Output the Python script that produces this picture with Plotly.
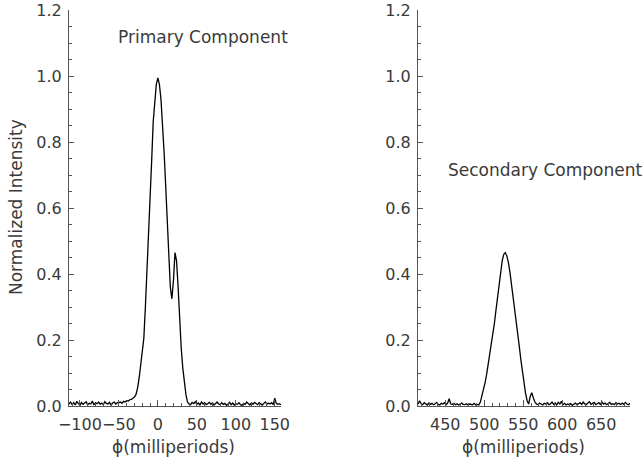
import plotly.graph_objects as go

# ---------------- data ----------------
# Primary component: phase grid in milliperiods, step 2
primary_phase = list(range(-114, 160, 2))
primary_base_left = [0.006, 0.012, 0.004, 0.010, 0.003, 0.014, 0.007, 0.002, 0.011, 0.005,
                     0.009, 0.013, 0.004, 0.008, 0.006, 0.015, 0.003, 0.010, 0.007, 0.012,
                     0.005, 0.009, 0.004, 0.013, 0.008, 0.006, 0.011, 0.003, 0.009, 0.012,
                     0.006, 0.010]
primary_pulse = [0.010, 0.012, 0.008, 0.014, 0.012, 0.016, 0.015, 0.019, 0.020, 0.024,
                 0.027, 0.035, 0.055, 0.085, 0.12, 0.16, 0.205, 0.30, 0.40, 0.52,
                 0.63, 0.74, 0.86, 0.93, 0.975, 0.995, 0.975, 0.93, 0.86, 0.77,
                 0.67, 0.55, 0.44, 0.36, 0.325, 0.38, 0.465, 0.44, 0.36, 0.25,
                 0.175, 0.115, 0.07, 0.035, 0.012, 0.006]
primary_base_right = [0.004, 0.011, 0.007, 0.013, 0.005, 0.009, 0.003, 0.012, 0.006, 0.010,
                      0.004, 0.008, 0.011, 0.005, 0.009, 0.003, 0.007, 0.012, 0.006, 0.004,
                      0.010, 0.005, 0.008, 0.002, 0.006, 0.011, 0.004, 0.009, 0.003, 0.007,
                      0.005, 0.010, 0.004, 0.002, 0.008, 0.005, 0.012, 0.006, 0.003, 0.009,
                      0.005, 0.011, 0.007, 0.004, 0.010, 0.006, 0.003, 0.008, 0.012, 0.005,
                      0.009, 0.006, 0.010, 0.004, 0.024, 0.008, 0.005, 0.007, 0.004]
primary_intensity = primary_base_left + primary_pulse + primary_base_right

# Secondary component: phase grid in milliperiods, step 2
secondary_phase = list(range(415, 689, 2))
secondary_base_left = [0.005, 0.016, 0.007, 0.004, 0.010, 0.006, 0.003, 0.009, 0.005, 0.008,
                       0.004, 0.007, 0.011, 0.005, 0.003, 0.008, 0.006, 0.010, 0.004, 0.009,
                       0.022, 0.006, 0.005, 0.008, 0.004, 0.007, 0.003, 0.006, 0.009, 0.005,
                       0.004, 0.007, 0.003, 0.006, 0.005, 0.004, 0.008, 0.003, 0.005]
secondary_pulse = [0.003, 0.012, 0.03, 0.05, 0.07, 0.095, 0.125, 0.155, 0.18, 0.21,
                   0.25, 0.29, 0.33, 0.37, 0.41, 0.44, 0.46, 0.465, 0.455, 0.435,
                   0.405, 0.37, 0.335, 0.30, 0.26, 0.22, 0.18, 0.14, 0.10, 0.065,
                   0.038, 0.016, 0.006, 0.03, 0.04, 0.025, 0.012, 0.006]
secondary_base_right = [0.004, 0.009, 0.005, 0.003, 0.008, 0.006, 0.010, 0.004, 0.007, 0.012,
                        0.005, 0.009, 0.003, 0.011, 0.006, 0.014, 0.004, 0.008, 0.003, 0.006,
                        0.004, 0.007, 0.002, 0.005, 0.009, 0.004, 0.006, 0.010, 0.005, 0.012,
                        0.006, 0.004, 0.009, 0.013, 0.005, 0.008, 0.011, 0.004, 0.007, 0.010,
                        0.005, 0.012, 0.006, 0.009, 0.004, 0.008, 0.011, 0.005, 0.007, 0.004,
                        0.010, 0.006, 0.008, 0.004, 0.009, 0.005, 0.011, 0.006, 0.004, 0.008]
secondary_intensity = secondary_base_left + secondary_pulse + secondary_base_right

assert len(primary_phase) == len(primary_intensity)
assert len(secondary_phase) == len(secondary_intensity)

x_ticks_left = [-100, -50, 0, 50, 100, 150]
x_ticks_right = [450, 500, 550, 600, 650]
y_ticks = [0.0, 0.2, 0.4, 0.6, 0.8, 1.0, 1.2]
y_tick_text = ["0.0", "0.2", "0.4", "0.6", "0.8", "1.0", "1.2"]

# ---------------- figure ----------------
FONT = "DejaVu Sans"
TXT = "#3a3a3a"
AX = "#555555"

fig = go.Figure()
fig.add_trace(go.Scatter(x=primary_phase, y=primary_intensity, mode="lines",
                         line=dict(color="black", width=1.3), xaxis="x", yaxis="y",
                         showlegend=False))
fig.add_trace(go.Scatter(x=secondary_phase, y=secondary_intensity, mode="lines",
                         line=dict(color="black", width=1.3), xaxis="x2", yaxis="y2",
                         showlegend=False))

W, H = 644, 464
Y_TOP = 1.2005

def px(x):
    return x / W

def py(y):
    return 1 - y / H

y_dom = [py(406), py(10)]

def xaxis(domain, rng, ticks, anchor):
    return dict(domain=domain, range=rng, anchor=anchor, tickvals=ticks,
                tickangle=0, automargin=False, ticklabelstandoff=4,
                ticks="inside", ticklen=6, tickwidth=1, tickcolor=AX,
                minor=dict(ticks="inside", ticklen=3, dtick=10, tickcolor=AX, tickwidth=1),
                showline=True, linecolor=AX, linewidth=1, mirror=False,
                showgrid=False, zeroline=False,
                tickfont=dict(family=FONT, size=16, color=TXT))

def yaxis(anchor):
    return dict(domain=y_dom, range=[0, Y_TOP], anchor=anchor, tickvals=y_ticks,
                ticktext=y_tick_text, automargin=False, ticklabelstandoff=3,
                ticklabeloverflow="allow",
                ticks="inside", ticklen=5, tickwidth=1, tickcolor=AX,
                minor=dict(ticks="inside", ticklen=3, dtick=0.05, tickcolor=AX, tickwidth=1),
                showline=True, linecolor=AX, linewidth=1, mirror=False,
                showgrid=False, zeroline=False,
                tickfont=dict(family=FONT, size=16, color=TXT))

fig.update_layout(
    width=W, height=H,
    margin=dict(l=0, r=0, t=0, b=0, autoexpand=False),
    paper_bgcolor="white", plot_bgcolor="white",
    xaxis=xaxis([px(69), px(281)], [-114, 158], x_ticks_left, "y"),
    yaxis=yaxis("x"),
    xaxis2=xaxis([px(418), px(630)], [415, 687], x_ticks_right, "y2"),
    yaxis2=yaxis("x2"),
    showlegend=False,
)

ann_font = dict(family=FONT, size=17, color=TXT)
fig.add_annotation(text="Primary Component", x=px(203), y=py(37), xref="paper", yref="paper",
                   showarrow=False, font=ann_font, xanchor="center", yanchor="middle")
fig.add_annotation(text="Secondary Component", x=px(545), y=py(170), xref="paper", yref="paper",
                   showarrow=False, font=ann_font, xanchor="center", yanchor="middle")
fig.add_annotation(text="ϕ(milliperiods)", x=px(173), y=py(447), xref="paper", yref="paper",
                   showarrow=False, font=ann_font, xanchor="center", yanchor="middle")
fig.add_annotation(text="ϕ(milliperiods)", x=px(523), y=py(447), xref="paper", yref="paper",
                   showarrow=False, font=ann_font, xanchor="center", yanchor="middle")
fig.add_annotation(text="Normalized Intensity", x=px(16), y=py(207), xref="paper", yref="paper",
                   showarrow=False, font=ann_font, textangle=-90, xanchor="center", yanchor="middle")

# remove the default page margin so the figure sits at the window's top-left corner
fig.write_html("out.html",
               config={"displayModeBar": False},
               post_script="document.body.style.margin='0';document.body.style.overflow='hidden';")
